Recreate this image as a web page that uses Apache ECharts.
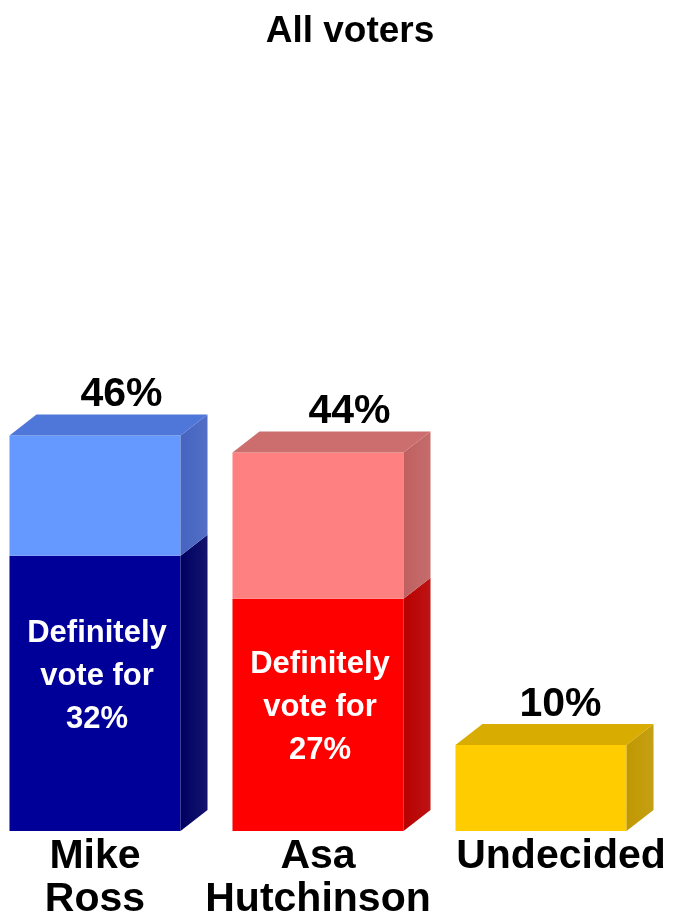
<!DOCTYPE html>
<html>
<head>
<meta charset="utf-8">
<title>All voters</title>
<script src="https://cdn.jsdelivr.net/npm/echarts@6/dist/echarts.min.js"></script>
<style>
  html, body { margin: 0; padding: 0; background: #ffffff; }
  #chart { width: 673px; height: 916px; }
</style>
</head>
<body>
<div id="chart"></div>
<script>
// Candidate names (line breaks as shown under each bar)
const categories = ['Mike\nRoss', 'Asa\nHutchinson', 'Undecided'];
// Total support for each choice, in percent
const totalShares = [46, 44, 10];
// "Definitely vote for" share within the total (none for undecided)
const definiteShares = [32, 27, null];

// Face colours for each bar: solid (definite) part, soft (lean) part
const barColors = [
  { solid: '#000099', solidSide: '#000062', soft: '#6699ff', softSide: '#4563c0', softTop: '#4f76d9' },
  { solid: '#ff0000', solidSide: '#b80000', soft: '#ff8080', softSide: '#c06060', softTop: '#cc6e6e' },
  { solid: '#ffcc00', solidSide: '#c09800', soft: '#ffcc00', softSide: '#c09800', softTop: '#d8ac00' }
];

// 3D box geometry and label placement (pixels / fractions)
const DEPTH_X = 27;
const DEPTH_Y = 21;
const FRONT_RATIO = 0.767;
const catLabelShift = [0, 0, 20];
const valueLabelShift = [1, 6, -6];
const innerLabelPos = [0.44, 0.47];

const FONT = '"Liberation Sans", Arial, Helvetica, sans-serif';

const chart = echarts.init(document.getElementById('chart'), null, { renderer: 'canvas' });

function renderBox(params, api) {
  const i = api.value(0);
  const total = api.value(1);
  const definite = api.value(2);
  const colors = barColors[i];

  const base = api.coord([i, 0]);
  const band = api.size([1, 0])[0];
  const frontW = band * FRONT_RATIO;
  const left = base[0] - (frontW + DEPTH_X) / 2 - 3;
  const right = left + frontW;
  const yBase = base[1];
  const yTop = api.coord([i, total])[1];

  const segments = [];
  const hasDefinite = definite != null && !isNaN(definite);
  if (hasDefinite) {
    const yDef = api.coord([i, definite])[1];
    segments.push({ y0: yBase, y1: yDef, front: colors.solid, side: colors.solidSide });
    segments.push({ y0: yDef, y1: yTop, front: colors.soft, side: colors.softSide });
  } else {
    segments.push({ y0: yBase, y1: yTop, front: colors.solid, side: colors.solidSide });
  }

  const children = [];
  segments.forEach(function (s) {
    children.push({
      type: 'rect',
      shape: { x: left, y: s.y1, width: frontW, height: s.y0 - s.y1 },
      style: { fill: s.front }
    });
    children.push({
      type: 'polygon',
      shape: { points: [[right, s.y0], [right + DEPTH_X, s.y0 - DEPTH_Y], [right + DEPTH_X, s.y1 - DEPTH_Y], [right, s.y1]] },
      style: {
        fill: new echarts.graphic.LinearGradient(0, 0, 1, 0, [
          { offset: 0, color: s.side },
          { offset: 1, color: echarts.color.lift(s.side, 0.08) }
        ])
      }
    });
  });

  // top face
  children.push({
    type: 'polygon',
    shape: { points: [[left, yTop], [left + DEPTH_X, yTop - DEPTH_Y], [right + DEPTH_X, yTop - DEPTH_Y], [right, yTop]] },
    style: { fill: colors.softTop }
  });

  // total value above the box
  children.push({
    type: 'text',
    style: {
      text: total + '%',
      x: left + 111 + valueLabelShift[i],
      y: yTop - DEPTH_Y + 1,
      align: 'center',
      verticalAlign: 'bottom',
      fill: '#000000',
      font: 'bold 41px ' + FONT
    }
  });

  // "Definitely vote for" label inside the solid part
  if (hasDefinite) {
    const yDef = api.coord([i, definite])[1];
    children.push({
      type: 'text',
      style: {
        text: 'Definitely\nvote for\n' + definite + '%',
        x: left + frontW / 2 + 2,
        y: yDef + (yBase - yDef) * innerLabelPos[i],
        align: 'center',
        verticalAlign: 'middle',
        lineHeight: 43,
        fill: '#ffffff',
        font: 'bold 31px ' + FONT
      }
    });
  }

  // category name under the box
  children.push({
    type: 'text',
    style: {
      text: categories[i],
      x: left + frontW / 2 + catLabelShift[i],
      y: yBase + 4,
      align: 'center',
      verticalAlign: 'top',
      lineHeight: 43,
      fill: '#000000',
      font: 'bold 41px ' + FONT
    }
  });

  return { type: 'group', children: children };
}

const option = {
  backgroundColor: '#ffffff',
  animation: false,
  title: {
    text: 'All voters',
    left: 345,
    top: 8,
    textAlign: 'center',
    textStyle: { fontFamily: FONT, fontWeight: 'bold', fontSize: 37, color: '#000000' }
  },
  grid: { left: 0, right: 4, top: 143, bottom: 85, containLabel: false },
  xAxis: {
    type: 'category',
    data: categories,
    show: false,
    boundaryGap: true
  },
  yAxis: {
    type: 'value',
    min: 0,
    max: 80,
    interval: 10,
    show: false
  },
  series: [{
    type: 'custom',
    renderItem: renderBox,
    clip: false,
    encode: { x: 0, y: 1 },
    data: categories.map(function (c, i) {
      return [i, totalShares[i], definiteShares[i] == null ? NaN : definiteShares[i]];
    })
  }]
};

chart.setOption(option);
</script>
</body>
</html>
